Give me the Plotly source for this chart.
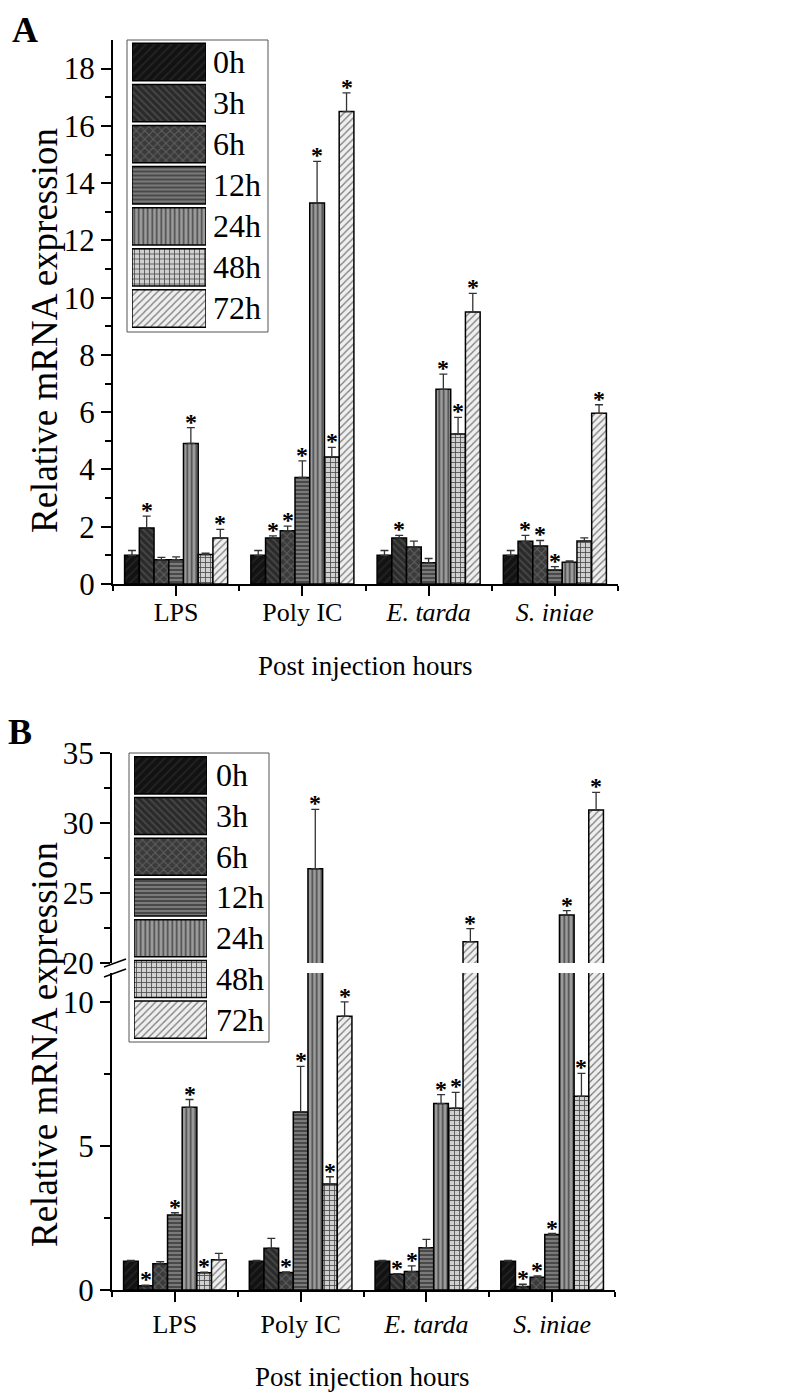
import plotly.graph_objects as go

# page body keeps its default 8px margin, so the figure is 8px smaller and
# all reference pixel positions are shifted by that offset
OFF = 8
W, H = 791 - OFF, 1396 - OFF
FONT = "Liberation Serif, serif"

categories = ["LPS", "Poly IC", "<i>E. tarda</i>", "<i>S. iniae</i>"]
times = ["0h", "3h", "6h", "12h", "24h", "48h", "72h"]

# ---------------- Panel A ----------------
a_0h = [1.00, 1.00, 1.00, 1.00]
a_3h = [1.96, 1.61, 1.61, 1.49]
a_6h = [0.85, 1.86, 1.29, 1.33]
a_12h = [0.85, 3.72, 0.74, 0.49]
a_24h = [4.91, 13.31, 6.80, 0.76]
a_48h = [1.03, 4.44, 5.24, 1.50]
a_72h = [1.61, 16.50, 9.50, 5.96]

a_err_0h = [0.17, 0.17, 0.17, 0.17]
a_err_3h = [0.41, 0.07, 0.09, 0.21]
a_err_6h = [0.08, 0.16, 0.21, 0.19]
a_err_12h = [0.10, 0.58, 0.15, 0.12]
a_err_24h = [0.55, 1.45, 0.53, 0.05]
a_err_48h = [0.05, 0.33, 0.58, 0.11]
a_err_72h = [0.30, 0.65, 0.65, 0.30]

a_sig_0h = [0, 0, 0, 0]
a_sig_3h = [1, 1, 1, 1]
a_sig_6h = [0, 1, 0, 1]
a_sig_12h = [0, 1, 0, 1]
a_sig_24h = [1, 1, 1, 0]
a_sig_48h = [0, 1, 1, 0]
a_sig_72h = [1, 1, 1, 1]

# ---------------- Panel B ----------------
b_0h = [1.00, 1.00, 1.00, 1.00]
b_3h = [0.15, 1.45, 0.55, 0.12]
b_6h = [0.91, 0.61, 0.64, 0.44]
b_12h = [2.60, 6.18, 1.47, 1.93]
b_24h = [6.34, 26.74, 6.47, 23.43]
b_48h = [0.60, 3.68, 6.31, 6.72]
b_72h = [1.05, 9.50, 21.52, 30.93]

b_err_0h = [0.03, 0.03, 0.03, 0.03]
b_err_3h = [0.02, 0.34, 0.02, 0.08]
b_err_6h = [0.07, 0.02, 0.20, 0.05]
b_err_12h = [0.08, 1.58, 0.29, 0.03]
b_err_24h = [0.27, 4.24, 0.31, 0.31]
b_err_48h = [0.02, 0.25, 0.55, 0.80]
b_err_72h = [0.22, 0.50, 0.93, 1.26]

b_sig_0h = [0, 0, 0, 0]
b_sig_3h = [1, 0, 1, 1]
b_sig_6h = [0, 1, 1, 1]
b_sig_12h = [1, 1, 0, 1]
b_sig_24h = [1, 1, 1, 1]
b_sig_48h = [1, 1, 1, 1]
b_sig_72h = [0, 1, 1, 1]

a_vals = [a_0h, a_3h, a_6h, a_12h, a_24h, a_48h, a_72h]
a_errs = [a_err_0h, a_err_3h, a_err_6h, a_err_12h, a_err_24h, a_err_48h, a_err_72h]
a_sigs = [a_sig_0h, a_sig_3h, a_sig_6h, a_sig_12h, a_sig_24h, a_sig_48h, a_sig_72h]
b_vals = [b_0h, b_3h, b_6h, b_12h, b_24h, b_48h, b_72h]
b_errs = [b_err_0h, b_err_3h, b_err_6h, b_err_12h, b_err_24h, b_err_48h, b_err_72h]
b_sigs = [b_sig_0h, b_sig_3h, b_sig_6h, b_sig_12h, b_sig_24h, b_sig_48h, b_sig_72h]

# styles per time point: (background, pattern shape, pattern colour, size, solidity)
styles = [
    ("#121212", "/", "#242424", 6, 0.3),
    ("#2a2a2a", "\\", "#474747", 5, 0.35),
    ("#3a3a3a", "x", "#606060", 6, 0.3),
    ("#7a7a7a", "-", "#3c3c3c", 4, 0.4),
    ("#9c9c9c", "|", "#4a4a4a", 4.5, 0.35),
    ("#d0d0d0", "+", "#4a4a4a", 5, 0.3),
    ("#efefef", "/", "#7a7a7a", 5, 0.25),
]


def px(x):
    return (x - OFF) / W


def py(y):
    return 1 - (y - OFF) / H


def marker(j):
    bg, shape, fg, size, sol = styles[j]
    return dict(
        color=bg,
        pattern=dict(shape=shape, bgcolor=bg, fgcolor=fg, size=size,
                     solidity=sol, fillmode="replace"),
        line=dict(color="black", width=1.5),
    )


pos = [1, 2, 3, 4]
bw = 0.1166

fig = go.Figure()
annotations = []


def add_bars(vals, errs, xa, ya):
    for j, t in enumerate(times):
        xs = [p + (j - 3) * bw for p in pos]
        fig.add_trace(go.Bar(
            x=xs, y=vals[j], width=bw, name=t, xaxis=xa, yaxis=ya,
            marker=marker(j), showlegend=False,
            error_y=dict(type="data", array=errs[j], arrayminus=[0] * 4,
                         symmetric=False, color="#333333", thickness=1.3, width=4),
        ))


def add_stars(vals, errs, sigs, ref_fn):
    for j in range(len(times)):
        for i, p in enumerate(pos):
            if sigs[j][i]:
                top = vals[j][i] + errs[j][i]
                xr, yr = ref_fn(top)
                annotations.append(dict(
                    x=p + (j - 3) * bw, y=top, xref=xr, yref=yr,
                    text="<b>*</b>", showarrow=False, xanchor="center", yanchor="bottom",
                    yshift=-9, font=dict(family=FONT, size=24, color="black"),
                ))


# Panel A
add_bars(a_vals, a_errs, "x", "y")
add_stars(a_vals, a_errs, a_sigs, lambda v: ("x", "y"))

# Panel B (broken axis: lower y2, upper y3)
add_bars(b_vals, b_errs, "x2", "y2")
add_bars(b_vals, b_errs, "x2", "y3")
add_stars(b_vals, b_errs, b_sigs, lambda v: ("x2", "y3") if v > 20 else ("x2", "y2"))


# Legends (inset axes with swatches)
def add_legend(xa, ya, xdom, ydom, label_x, box):
    for j, t in enumerate(times):
        fig.add_trace(go.Bar(
            x=[1], y=[j], orientation="h", width=0.91, xaxis=xa, yaxis=ya,
            marker=marker(j), showlegend=False, hoverinfo="skip",
        ))
        annotations.append(dict(
            x=px(label_x), y=j, xref="paper", yref=ya, text=t, showarrow=False,
            xanchor="left", yanchor="middle",
            font=dict(family=FONT, size=32, color="black"),
        ))
    return dict(
        x=dict(domain=[px(xdom[0]), px(xdom[1])], range=[0, 1], visible=False,
               fixedrange=True, automargin=False),
        y=dict(domain=[py(ydom[1]), py(ydom[0])], range=[6.5, -0.5], visible=False,
               fixedrange=True, automargin=False),
        box=box,
    )


legA = add_legend("x3", "y5", (132, 206), (41.5, 329), 211, (127, 40, 268, 332))
legB = add_legend("x4", "y4", (134, 207), (755, 1040), 214, (129, 753, 269, 1042))

axis_common = dict(
    showline=True, linecolor="black", linewidth=2, ticks="outside",
    tickcolor="black", tickwidth=2, ticklen=10, showgrid=False, zeroline=False,
    fixedrange=True, automargin=False,
)
xfont = dict(family=FONT, size=26, color="black")
yfont = dict(family=FONT, size=31, color="black")

layout = dict(
    width=W, height=H, margin=dict(l=0, r=0, t=0, b=0, autoexpand=False),
    paper_bgcolor="white", plot_bgcolor="white", showlegend=False,
    barmode="overlay",
    xaxis=dict(domain=[px(113), px(618)], range=[0.5, 4.5], anchor="y",
               tickvals=pos, ticktext=categories, tickfont=xfont,
               ticklabelstandoff=-6,
               minor=dict(tickvals=[0.5, 1.5, 2.5, 3.5, 4.5], ticks="outside",
                          ticklen=5, tickwidth=2, tickcolor="black"),
               **axis_common),
    yaxis=dict(domain=[py(584), py(40)], range=[0, 19], anchor="x",
               tickvals=list(range(0, 19, 2)), tickfont=yfont,
               minor=dict(tickvals=list(range(1, 19, 2)), ticks="outside",
                          ticklen=6, tickwidth=2, tickcolor="black"),
               **axis_common),
    xaxis2=dict(domain=[px(112), px(615)], range=[0.5, 4.5], anchor="y2",
                tickvals=pos, ticktext=categories, tickfont=xfont,
                ticklabelstandoff=0,
                minor=dict(tickvals=[0.5, 1.5, 2.5, 3.5, 4.5], ticks="outside",
                           ticklen=5, tickwidth=2, tickcolor="black"),
                **axis_common),
    yaxis2=dict(domain=[py(1290), py(973)], range=[0, 11.0], anchor="x2",
                tickvals=[0, 5, 10], tickfont=yfont,
                minor=dict(tickvals=[2.5, 7.5], ticks="outside",
                           ticklen=6, tickwidth=2, tickcolor="black"),
                **axis_common),
    yaxis3=dict(domain=[py(963), py(753)], range=[20, 35], anchor="x2",
                tickvals=[20, 25, 30, 35], tickfont=yfont,
                minor=dict(tickvals=[22.5, 27.5, 32.5], ticks="outside",
                           ticklen=6, tickwidth=2, tickcolor="black"),
                **axis_common),
    xaxis3=dict(anchor="y5", **legA["x"]),
    yaxis5=dict(anchor="x3", **legA["y"]),
    xaxis4=dict(anchor="y4", **legB["x"]),
    yaxis4=dict(anchor="x4", **legB["y"]),
)
fig.update_layout(**layout)

shapes = []
for box in (legA["box"], legB["box"]):
    x0, y0, x1, y1 = box
    shapes.append(dict(type="rect", xref="paper", yref="paper",
                       x0=px(x0), y0=py(y0), x1=px(x1), y1=py(y1),
                       line=dict(color="#555555", width=1), fillcolor="rgba(0,0,0,0)"))
# axis break marks
for (x0, y0, x1, y1) in [(104, 967, 126, 959), (104, 977, 126, 969)]:
    shapes.append(dict(type="line", xref="paper", yref="paper",
                       x0=px(x0), y0=py(y0), x1=px(x1), y1=py(y1),
                       line=dict(color="black", width=1.5)))

title_font = dict(family=FONT, size=27, color="black")
ytitle_font = dict(family=FONT, size=37, color="black")


def note(text, x, y, font, angle=0, yanchor="middle"):
    return dict(text=text, x=px(x), y=py(y), xref="paper", yref="paper",
                xanchor="center", yanchor=yanchor, textangle=angle,
                showarrow=False, font=font)


annotations += [
    note("<b>A</b>", 25, 8, dict(family=FONT, size=36, color="black"), yanchor="top"),
    note("<b>B</b>", 20, 732, dict(family=FONT, size=36, color="black")),
    note("Relative mRNA expression", 44, 331, ytitle_font, -90),
    note("Relative mRNA expression", 44, 1045, ytitle_font, -90),
    note("Post injection hours", 365, 666, title_font),
    note("Post injection hours", 362, 1377, title_font),
]
fig.update_layout(shapes=shapes, annotations=annotations)

fig.write_html("out.html")
